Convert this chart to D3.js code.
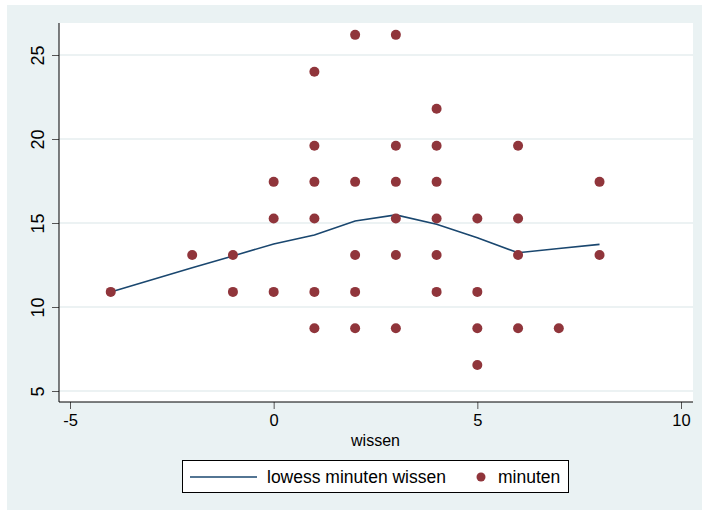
<!DOCTYPE html>
<html>
<head>
<meta charset="utf-8">
<script src="https://cdn.jsdelivr.net/npm/d3@7"></script>
<style>
  body { margin: 0; background: #fff; }
  text { font-family: "Liberation Sans", Arial, sans-serif; }
</style>
</head>
<body>
<div id="chart"></div>
<script>
// scatter points: wissen (x) / minuten (y)
var wissen  = [-4, -2, -1, -1,
               0, 0, 0,
               1, 1, 1, 1, 1, 1,
               2, 2, 2, 2, 2,
               3, 3, 3, 3, 3, 3,
               4, 4, 4, 4, 4, 4,
               5, 5, 5, 5,
               6, 6, 6, 6,
               7, 8, 8];
var minuten = [10.9, 13.1, 13.1, 10.9,
               17.45, 15.27, 10.9,
               24, 19.6, 17.45, 15.27, 10.9, 8.73,
               26.2, 17.45, 13.1, 10.9, 8.73,
               26.2, 19.6, 17.45, 15.27, 13.1, 8.73,
               21.8, 19.6, 17.45, 15.27, 13.1, 10.9,
               15.27, 10.9, 8.73, 6.55,
               19.6, 15.27, 13.1, 8.73,
               8.73, 17.45, 13.1];

// lowess smooth
var lowessX = [-4, -2, -1, 0, 1, 2, 3, 4, 5, 6, 7, 8];
var lowessY = [10.89, 12.34, 13.04, 13.75, 14.29, 15.12, 15.48, 14.92, 14.12, 13.23, 13.48, 13.73];

var xTicks = [-5, 0, 5, 10];
var yTicks = [5, 10, 15, 20, 25];

var width = 702,
    height = 510;

var plot = {left: 59, top: 23, right: 693, bottom: 402};

var x = d3.scaleLinear().domain([-5, 10]).range([70, 681]);
var y = d3.scaleLinear().domain([5, 25]).range([391, 55]);

var svg = d3.select("#chart")
    .append("svg")
    .attr("width", width)
    .attr("height", height);

// outer graph region
svg.append("rect")
    .attr("x", 7).attr("y", 5)
    .attr("width", width - 7).attr("height", height - 5)
    .attr("fill", "#eaf2f3");

// plot region
svg.append("rect")
    .attr("x", plot.left).attr("y", plot.top)
    .attr("width", plot.right - plot.left)
    .attr("height", plot.bottom - plot.top)
    .attr("fill", "#fff");

// gridlines
svg.append("g")
    .selectAll("line")
    .data(yTicks)
    .enter().append("line")
    .attr("x1", plot.left).attr("x2", plot.right)
    .attr("y1", function (d) { return y(d); })
    .attr("y2", function (d) { return y(d); })
    .attr("stroke", "#e6eeef")
    .attr("stroke-width", 1.5);

// y axis
var yAxis = d3.axisLeft(y).tickValues(yTicks).tickSize(7).tickFormat(String);
var gy = svg.append("g")
    .attr("transform", "translate(" + plot.left + ",0)")
    .call(yAxis);
gy.select(".domain").remove();
gy.selectAll(".tick line").attr("stroke", "#555");
gy.selectAll(".tick text")
    .attr("font-size", 18)
    .attr("fill", "#000")
    .attr("text-anchor", "middle")
    .attr("x", 0).attr("dy", 0)
    .attr("transform", "translate(-15,0) rotate(-90)");
gy.append("line")
    .attr("x1", 0).attr("x2", 0)
    .attr("y1", plot.top).attr("y2", plot.bottom)
    .attr("stroke", "#000");

// x axis
var xAxis = d3.axisBottom(x).tickValues(xTicks).tickSize(7).tickPadding(5).tickFormat(String);
var gx = svg.append("g")
    .attr("transform", "translate(0," + plot.bottom + ")")
    .call(xAxis);
gx.select(".domain").remove();
gx.selectAll(".tick line").attr("stroke", "#555");
gx.selectAll(".tick text")
    .attr("font-size", 16.5)
    .attr("fill", "#000");
gx.append("line")
    .attr("x1", plot.left).attr("x2", plot.right)
    .attr("y1", 0).attr("y2", 0)
    .attr("stroke", "#000");

svg.append("text")
    .attr("x", (x(-5) + x(10)) / 2)
    .attr("y", 446)
    .attr("text-anchor", "middle")
    .attr("font-size", 16)
    .text("wissen");

// lowess line
var line = d3.line()
    .x(function (d, i) { return x(lowessX[i]); })
    .y(function (d) { return y(d); });

svg.append("path")
    .datum(lowessY)
    .attr("d", line)
    .attr("fill", "none")
    .attr("stroke", "#1a476f")
    .attr("stroke-width", 1.6);

// points
svg.append("g")
    .selectAll("circle")
    .data(minuten)
    .enter().append("circle")
    .attr("cx", function (d, i) { return x(wissen[i]); })
    .attr("cy", function (d) { return y(d); })
    .attr("r", 5)
    .attr("fill", "#90353b");

// legend
var legend = svg.append("g");
legend.append("rect")
    .attr("x", 182.5).attr("y", 460.5)
    .attr("width", 386).attr("height", 32)
    .attr("fill", "#fff")
    .attr("stroke", "#000");
legend.append("line")
    .attr("x1", 190).attr("x2", 257)
    .attr("y1", 477).attr("y2", 477)
    .attr("stroke", "#1a476f")
    .attr("stroke-width", 1.6);
legend.append("text")
    .attr("x", 267).attr("y", 483)
    .attr("font-size", 17.5)
    .text("lowess minuten wissen");
legend.append("circle")
    .attr("cx", 481).attr("cy", 477)
    .attr("r", 4.5)
    .attr("fill", "#90353b");
legend.append("text")
    .attr("x", 498).attr("y", 483)
    .attr("font-size", 17.5)
    .text("minuten");
</script>
</body>
</html>
